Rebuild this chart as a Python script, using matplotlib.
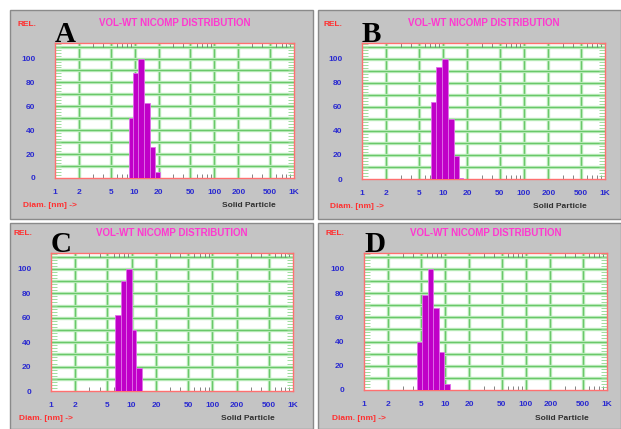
import numpy as np
import matplotlib.pyplot as plt
from matplotlib.patches import Rectangle

W, H = 621, 429

# bin edges (nm) and relative volume-weighted heights
edges_A = [8.4, 9.6, 11.1, 13.1, 15.4, 17.9, 20.5]
heights_A = [50, 88, 100, 63, 26, 5]
edges_B = [7.1, 8.3, 9.8, 11.4, 13.5, 15.7, 17.9]
heights_B = [64, 93, 100, 50, 19, 1]
edges_C = [6.2, 7.3, 8.5, 10.0, 11.3, 13.3]
heights_C = [62, 90, 100, 50, 19]
edges_D = [4.5, 5.2, 6.1, 7.2, 8.5, 9.8, 11.4]
heights_D = [40, 78, 100, 68, 31, 5]

x_ticks = [1, 2, 5, 10, 20, 50, 100, 200, 500, 1000]
x_ticklabels = ['1', '2', '5', '10', '20', '50', '100', '200', '500', '1K']
y_ticks = [0, 20, 40, 60, 80, 100]

panel_letters = ['A', 'B', 'C', 'D']

# pixel boxes: grey panel (x0, y0, x1, y1) and plot area (left, top, right, bottom)
panel_boxes = [(10, 10, 313, 219), (318, 10, 621, 219),
               (10, 223, 313, 429), (318, 223, 621, 429)]
plot_boxes = [(55, 43, 294, 178), (362, 43, 605, 179),
              (51, 253, 293, 391), (364, 253, 607, 390)]

fig = plt.figure(figsize=(W / 100, H / 100), dpi=100)
fig.patch.set_facecolor('white')


def fx(x):
    return x / W


def fy(y):
    return 1 - y / H


def panel(i, edges, heights):
    x0, y0, x1, y1 = panel_boxes[i]
    fig.add_artist(Rectangle((fx(x0), fy(y1)), fx(x1 - x0), (y1 - y0) / H,
                             transform=fig.transFigure, facecolor='#c4c4c4',
                             edgecolor='#8a8a8a', lw=1, zorder=0))

    l, t, r, b = plot_boxes[i]
    ax = fig.add_axes([fx(l), fy(b), fx(r - l), (b - t) / H])
    ax.set_facecolor('white')
    ax.set_xscale('log')
    ax.set_xlim(1, 1000)
    ax.set_ylim(0, 113)

    # soft green grid
    for v in [2, 5, 10, 20, 50, 100, 200, 500]:
        ax.axvline(v, color='#b4e8b4', lw=2.4, zorder=1)
        ax.axvline(v, color='#5cc25c', lw=0.6, zorder=1)
    for v in range(10, 120, 10):
        ax.axhline(v, color='#b4e8b4', lw=2.4, zorder=1)
        ax.axhline(v, color='#5cc25c', lw=0.6, zorder=1)

    e = np.array(edges)
    ax.bar(e[:-1], heights, width=np.diff(e), align='edge', color='#c000c8',
           edgecolor='#e070e8', lw=0.6, zorder=3)

    for s in ax.spines.values():
        s.set_color('#ff7070')
        s.set_linewidth(1)

    ax.set_xticks(x_ticks)
    ax.set_xticklabels(x_ticklabels)
    ax.set_xticks([m * d for d in [1, 10, 100] for m in range(3, 10) if m != 5],
                  minor=True)
    ax.set_xticklabels([], minor=True)
    ax.set_yticks(y_ticks)
    ax.set_yticks(np.arange(0, 113, 2.5), minor=True)
    ax.tick_params(axis='x', which='major', length=0, pad=8, labelsize=6,
                   labelcolor='#2a2ad0')
    ax.tick_params(axis='x', which='minor', direction='in', length=3,
                   color='#707070', top=True, bottom=True)
    ax.tick_params(axis='y', which='major', length=0, pad=14, labelsize=6,
                   labelcolor='#2a2ad0')
    ax.tick_params(axis='y', which='minor', direction='in', length=4,
                   width=0.6, color='#8fd88f', left=True, right=True)
    for lab in ax.get_xticklabels() + ax.get_yticklabels():
        lab.set_fontweight('bold')
        lab.set_family('Liberation Sans')

    fig.text(fx(l - 38), fy(t - 19), 'REL.', color='#ff3030', fontsize=6,
             fontweight='bold', family='Liberation Sans', va='center')
    fig.text(fx((l + r) / 2), fy(t - 20), 'VOL-WT NICOMP DISTRIBUTION',
             color='#ff38d0', fontsize=7, fontweight='bold',
             family='Liberation Sans', ha='center', va='center')
    fig.text(fx(l), fy(t - 1), panel_letters[i], fontsize=21,
             fontweight='bold', family='Liberation Serif', va='baseline')
    fig.text(fx(l - 32), fy(b + 28), 'Diam. [nm] ->', color='#ff3030',
             fontsize=6, fontweight='bold', family='Liberation Sans',
             va='center')
    fig.text(fx(r - 18), fy(b + 28), 'Solid Particle', color='#303030',
             fontsize=6, fontweight='bold', family='Liberation Sans',
             ha='right', va='center')


panel(0, edges_A, heights_A)
panel(1, edges_B, heights_B)
panel(2, edges_C, heights_C)
panel(3, edges_D, heights_D)

fig.savefig('out.png', dpi=100, facecolor=fig.get_facecolor())
